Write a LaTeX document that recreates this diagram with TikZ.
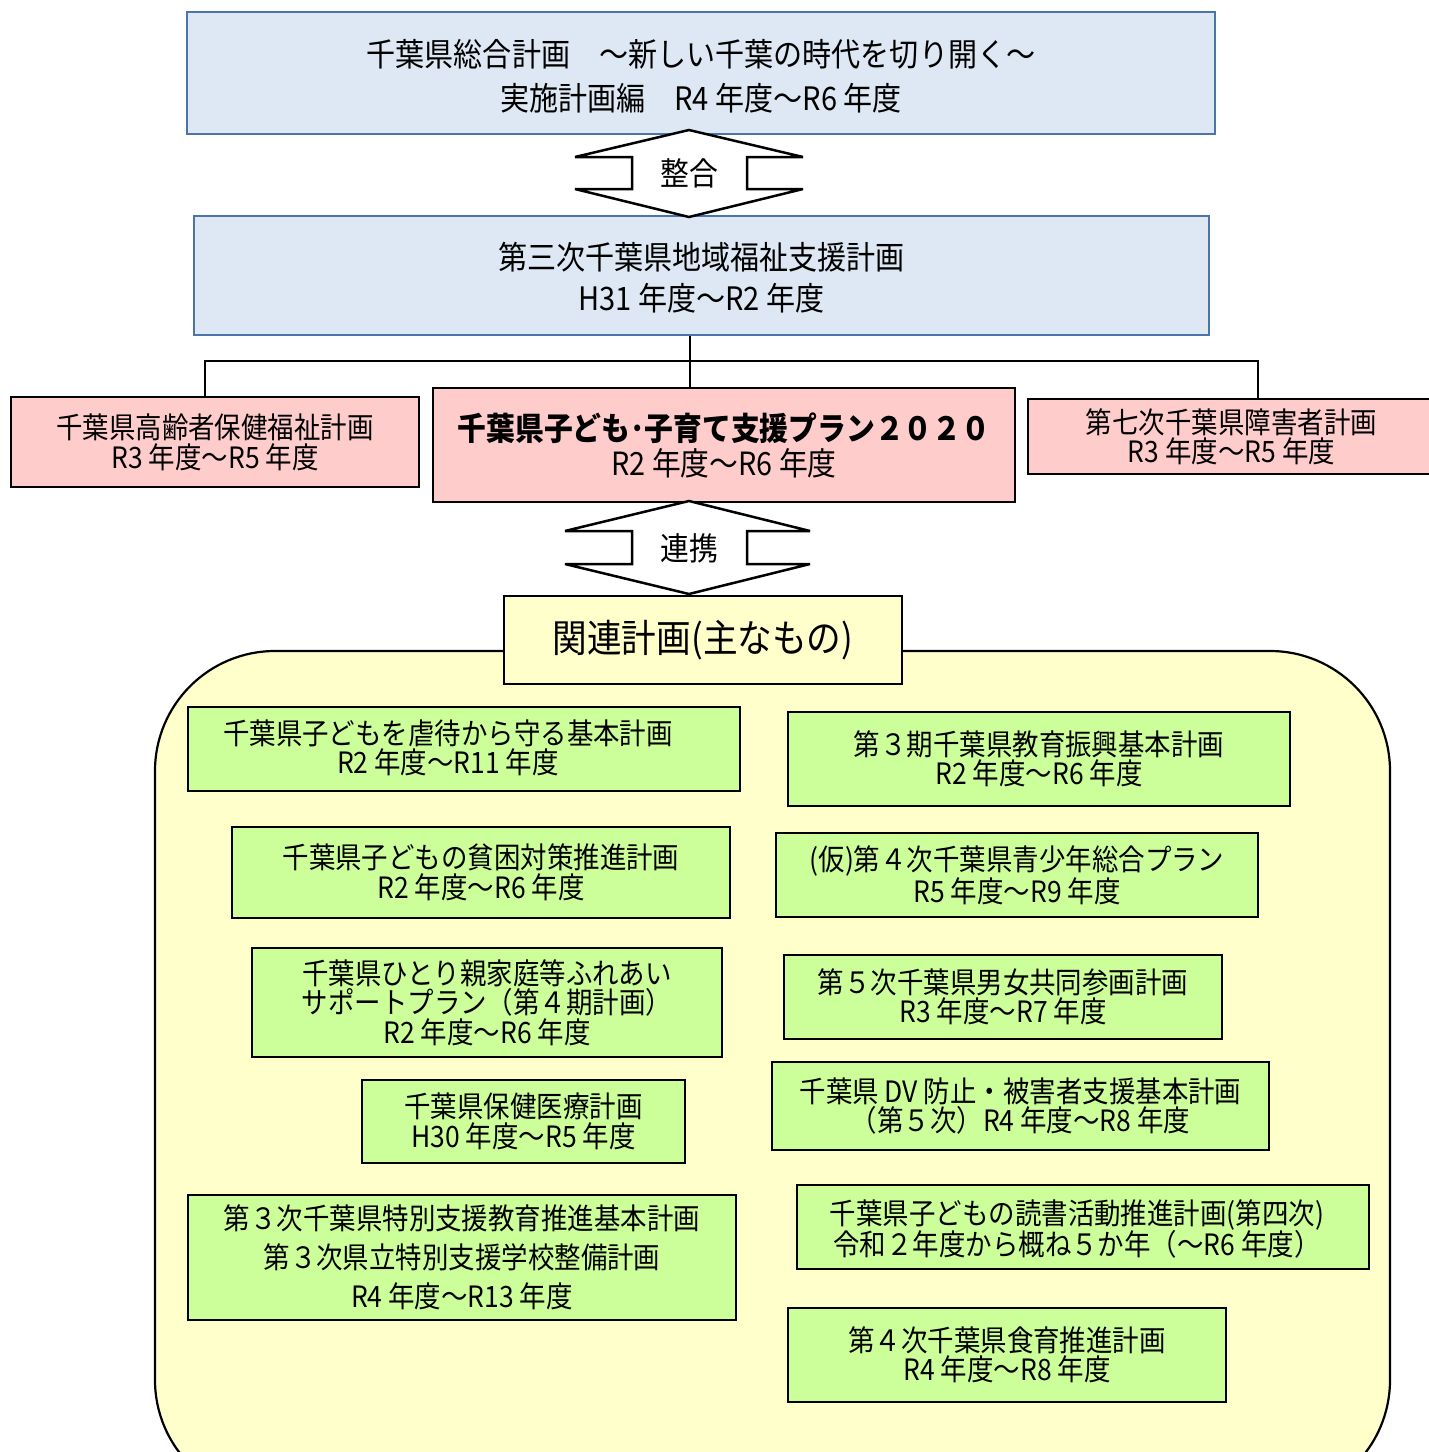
\documentclass[tikz,border=0pt]{standalone}
\usepackage{fontspec}
\setmainfont{Noto Sans CJK JP}[FakeStretch=0.9]
\definecolor{blfill}{HTML}{DEE8F4}
\definecolor{blline}{HTML}{4A74AA}
\definecolor{pk}{HTML}{FFCCCC}
\definecolor{gr}{HTML}{CCFF99}
\definecolor{yl}{HTML}{FFFFCC}
\tikzset{
  planbox/.style={draw=blline, fill=blfill, line width=2.5pt, align=center, inner sep=0pt,
    font=\fontsize{32.3}{44}\selectfont},
  plantext/.style={align=center, inner sep=0pt, font=\fontsize{32.3}{44}\selectfont},
  pinkbox/.style={draw=black, fill=pk, line width=2.5pt, align=center, inner sep=0pt,
    font=\fontsize{29.4}{30}\selectfont},
  greenbox/.style={draw=black, fill=gr, line width=2.5pt, align=center, inner sep=0pt,
    font=\fontsize{29.4}{29.5}\selectfont},
  greentext/.style={align=center, inner sep=0pt, font=\fontsize{29.4}{29.5}\selectfont},
  dblarrow/.style={draw=black, fill=white, line width=2.5pt, line join=miter, miter limit=2.5},
  arrowtext/.style={font=\fontsize{32}{34}\selectfont, inner sep=0pt},
  conn/.style={draw=black, line width=1.2pt}
}
\begin{document}
\begin{tikzpicture}[x=1pt,y=-1pt]
\useasboundingbox (0,0) rectangle (1429,1452);
\fill[white] (0,0) rectangle (1429,1452);

% top boxes
\node[planbox, minimum width=1028pt, minimum height=122pt] (top) at (701,73) {};
\node[plantext] (toptext) at (701,76)
  {千葉県総合計画　～新しい千葉の時代を切り開く～\\実施計画編　R4 年度～R6 年度};
\node[planbox, minimum width=1015pt, minimum height=119pt] (second) at (701.5,275.5) {};
\node[plantext, font=\fontsize{32.3}{41}\selectfont] (secondtext) at (701.5,278)
  {第三次千葉県地域福祉支援計画\\H31 年度～R2 年度};

% connectors
\coordinate (jm) at (690,361);
\coordinate (jl) at (205,361);
\coordinate (jr) at (1258,361);

% pink boxes
\node[pinkbox, minimum width=408pt, minimum height=90pt] (pleft) at (215,442)
  {千葉県高齢者保健福祉計画\\R3 年度～R5 年度};
\node[pinkbox, minimum width=582pt, minimum height=114pt, font=\fontsize{32}{35}\selectfont] (pcenter) at (724,445)
  {{\bfseries 千葉県子ども･子育て支援プラン２０２０}\\R2 年度～R6 年度};
\node[pinkbox, minimum width=407pt, minimum height=75pt, font=\fontsize{29.4}{29}\selectfont] (pright) at (1231.5,436.5)
  {第七次千葉県障害者計画\\R3 年度～R5 年度};

\draw[conn] (second.south -| jm) -- (pcenter.north -| jm);
\draw[conn] (jl |- pleft.north) -- (jl) -- (jr) -- (jr |- pright.north);

% arrow 1 (整合)
\draw[dblarrow] (689,130) -- (803,157) -- (747,157) -- (747,189) -- (803,189) -- (689,217)
  -- (575,189) -- (632,189) -- (632,157) -- (575,157) -- cycle;
\node[arrowtext] (seigo) at (689,173.5) {整合};

% yellow area
\draw[fill=yl, line width=2.2pt, rounded corners=120pt] (155,651) rectangle (1390,1500);
\node[draw=black, fill=yl, line width=2.5pt, minimum width=398pt, minimum height=88pt, inner sep=0pt,
  font=\fontsize{38.5}{40}\selectfont] (kanren) at (703,640) {関連計画(主なもの)};

% arrow 2 (連携)
\draw[dblarrow] (689,501) -- (810,531) -- (747,531) -- (747,564) -- (810,564) -- (689,594)
  -- (565,564) -- (632,564) -- (632,531) -- (565,531) -- cycle;
\node[arrowtext] (renkei) at (689,548) {連携};

% green boxes left
\node[greenbox, minimum width=552pt, minimum height=84pt] (ga) at (464,749) {};
\node[greentext] (gatext) at (448,748)
  {千葉県子どもを虐待から守る基本計画\\R2 年度～R11 年度};
\node[greenbox, minimum width=498pt, minimum height=91pt] (gb) at (481,872.5)
  {千葉県子どもの貧困対策推進計画\\R2 年度～R6 年度};
\node[greenbox, minimum width=470pt, minimum height=109pt] (gc) at (487,1002.5)
  {千葉県ひとり親家庭等ふれあい\\サポートプラン（第４期計画）\\R2 年度～R6 年度};
\node[greenbox, minimum width=323pt, minimum height=83pt] (gd) at (523.5,1121.5)
  {千葉県保健医療計画\\H30 年度～R5 年度};
\node[greenbox, minimum width=548pt, minimum height=125pt, font=\fontsize{29.4}{39}\selectfont] (ge) at (462,1257.5)
  {第３次千葉県特別支援教育推進基本計画\\第３次県立特別支援学校整備計画\\R4 年度～R13 年度};

% green boxes right
\node[greenbox, minimum width=502pt, minimum height=94pt] (gf) at (1039,759)
  {第３期千葉県教育振興基本計画\\R2 年度～R6 年度};
\node[greenbox, minimum width=482pt, minimum height=84pt] (gg) at (1017,875)
  {(仮)第４次千葉県青少年総合プラン\\R5 年度～R9 年度};
\node[greenbox, minimum width=438pt, minimum height=84pt] (gh) at (1003,997)
  {第５次千葉県男女共同参画計画\\R3 年度～R7 年度};
\node[greenbox, minimum width=497pt, minimum height=88pt] (gi) at (1020.5,1106)
  {千葉県 DV 防止・被害者支援基本計画\\（第５次）R4 年度～R8 年度};
\node[greenbox, minimum width=572pt, minimum height=84pt] (gj) at (1083,1227) {};
\node[greentext] (gjtext) at (1077,1229)
  {千葉県子どもの読書活動推進計画(第四次)\\令和２年度から概ね５か年（～R6 年度）};
\node[greenbox, minimum width=438pt, minimum height=94pt] (gk) at (1007,1355)
  {第４次千葉県食育推進計画\\R4 年度～R8 年度};
\end{tikzpicture}
\end{document}
